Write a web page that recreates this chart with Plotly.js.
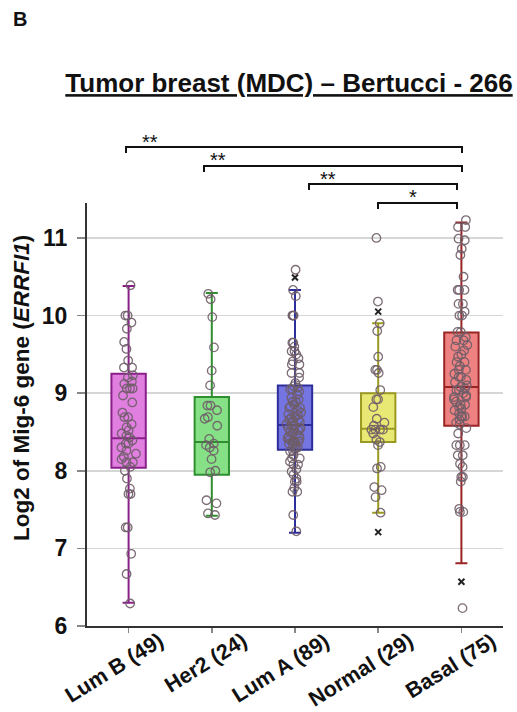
<!DOCTYPE html>
<html><head><meta charset="utf-8">
<script src="https://cdn.plot.ly/plotly-3.0.1.min.js"></script>
<style>html,body{margin:0;padding:0;background:#fff}</style>
</head><body><div id="chart" style="width:517px;height:712px"></div>
<script>
const categories = ['Lum B (49)', 'Her2 (24)', 'Lum A (89)', 'Normal (29)', 'Basal (75)'];
const q1 = [8.04, 7.95, 8.27, 8.37, 8.58];
const median = [8.42, 8.37, 8.59, 8.54, 9.08];
const q3 = [9.25, 8.95, 9.10, 9.00, 9.78];
const lowerWhisker = [6.30, 7.42, 7.20, 7.46, 6.81];
const upperWhisker = [10.38, 10.29, 10.33, 9.90, 11.20];

const lumB = [10.39, 10.0, 10.0, 9.91, 9.83, 9.66, 9.57, 9.42, 9.33, 9.33, 9.23, 9.2, 9.15, 9.12, 9.06, 9.06, 9.06, 8.97, 8.88, 8.75, 8.69, 8.69, 8.6, 8.56, 8.52, 8.48, 8.45, 8.43, 8.39, 8.35, 8.35, 8.30, 8.26, 8.22, 8.18, 8.15, 8.11, 8.11, 8.05, 8.0, 7.9, 7.77, 7.70, 7.70, 7.27, 7.27, 6.93, 6.67, 6.29];
const her2 = [10.28, 10.21, 9.98, 9.59, 9.29, 9.10, 8.84, 8.84, 8.78, 8.69, 8.67, 8.58, 8.41, 8.35, 8.33, 8.30, 8.26, 8.15, 8.0, 7.98, 7.62, 7.58, 7.45, 7.43];
const lumA = [10.59, 10.33, 10.25, 10.0, 10.0, 10.0, 9.65, 9.65, 9.6, 9.54,
  9.54, 9.50, 9.45, 9.41, 9.37, 9.37, 9.26, 9.26, 9.20, 9.13,
  9.09, 9.07, 9.05, 9.05, 9.02, 8.98, 8.94, 8.92, 8.89, 8.89,
  8.85, 8.83, 8.81, 8.81, 8.78, 8.75, 8.73, 8.72, 8.70, 8.68,
  8.66, 8.66, 8.64, 8.63, 8.62, 8.60, 8.58, 8.57, 8.55, 8.55,
  8.55, 8.54, 8.52, 8.50, 8.49, 8.47, 8.45, 8.44, 8.42, 8.42,
  8.40, 8.38, 8.38, 8.38, 8.36, 8.35, 8.33, 8.31, 8.30, 8.28,
  8.25, 8.25, 8.20, 8.16, 8.16, 8.12, 8.08, 8.08, 8.02, 7.99,
  7.95, 7.90, 7.86, 7.86, 7.78, 7.73, 7.73, 7.43, 7.22];
const normal = [11.0, 10.18, 9.90, 9.80, 9.47, 9.30, 9.30, 9.26, 9.04, 8.92, 8.92, 8.82, 8.67, 8.62, 8.58, 8.53, 8.53, 8.53, 8.53, 8.48, 8.40, 8.37, 8.33, 8.05, 8.03, 7.79, 7.75, 7.66, 7.46];
const basal = [11.23, 11.14, 11.14, 10.99, 10.97, 10.86, 10.78, 10.50, 10.33, 10.33,
  10.33, 10.15, 10.15, 10.05, 10.0, 10.0, 9.79, 9.79, 9.72, 9.68,
  9.68, 9.62, 9.60, 9.55, 9.50, 9.47, 9.40, 9.40, 9.35, 9.30,
  9.30, 9.25, 9.21, 9.21, 9.17, 9.14, 9.10, 9.08, 9.06, 9.04,
  9.04, 9.00, 8.97, 8.95, 8.95, 8.92, 8.89, 8.85, 8.85, 8.82,
  8.80, 8.78, 8.74, 8.70, 8.70, 8.70, 8.66, 8.62, 8.60, 8.55,
  8.48, 8.33, 8.33, 8.33, 8.20, 8.20, 8.09, 8.05, 7.92, 7.92,
  7.86, 7.51, 7.47, 7.47, 6.23];

const extremeCat = ['Lum A (89)', 'Normal (29)', 'Normal (29)', 'Basal (75)'];
const extremeVal = [10.49, 10.05, 7.21, 6.57];

const sigLabels = ['**', '**', '**', '*'];

const groups = [lumB, her2, lumA, normal, basal];
const lineColors = ['#8a1f8a', '#2f8f2f', '#2e2e9a', '#9a9a22', '#9a2424'];
const fillColors = ['#e07fe0', '#86e086', '#7474e2', '#e8e874', '#ee8282'];

const FONT = 'Liberation Sans, Arial, Helvetica, sans-serif';
const traces = [];
categories.forEach((c, i) => {
  traces.push({
    type: 'box', x: [c], q1: [q1[i]], median: [median[i]], q3: [q3[i]],
    lowerfence: [lowerWhisker[i]], upperfence: [upperWhisker[i]],
    fillcolor: fillColors[i], line: {color: lineColors[i], width: 2},
    whiskerwidth: 0.35, boxpoints: false, hoverinfo: 'skip'
  });
});
categories.forEach((c, i) => {
  traces.push({
    type: 'box', x: groups[i].map(() => c), y: groups[i],
    boxpoints: 'all', jitter: 0.5, pointpos: 0,
    fillcolor: 'rgba(0,0,0,0)', line: {color: 'rgba(0,0,0,0)', width: 0},
    whiskerwidth: 0,
    marker: {symbol: 'circle-open', size: 8.5, color: '#6f5d68', opacity: 0.9,
             line: {width: 1.3, color: '#6f5d68'}},
    hoverinfo: 'y'
  });
});
traces.push({
  type: 'scatter', mode: 'markers', x: extremeCat, y: extremeVal,
  marker: {symbol: 'x-thin-open', size: 6, color: '#222', line: {width: 2, color: '#222'}},
  hoverinfo: 'skip', cliponaxis: false
});

// pixel helpers for layout placement (plot area: x 87..503, y 203..626)
const PT = 203, PB = 626, PL = 87, PW = 416;
const py = p => (PB - p) / (PB - PT);
const px = p => (p - PL) / PW;

const bracketPx = [
  {x0: 126, x1: 462, y: 147},
  {x0: 204, x1: 462, y: 166},
  {x0: 309, x1: 457, y: 184},
  {x0: 378, x1: 457, y: 203}
];
const starPx = [{x: 150, y: 142}, {x: 218, y: 160}, {x: 328, y: 179}, {x: 413, y: 197}];

const shapes = bracketPx.map(b => ({
  type: 'path', xref: 'paper', yref: 'paper',
  path: `M ${px(b.x0)},${py(b.y + 6)} L ${px(b.x0)},${py(b.y)} L ${px(b.x1)},${py(b.y)} L ${px(b.x1)},${py(b.y + 6)}`,
  line: {color: '#111', width: 2}
}));

const annotations = [];
sigLabels.forEach((s, i) => annotations.push({
  text: s, xref: 'paper', yref: 'paper', x: px(starPx[i].x), y: py(starPx[i].y),
  xanchor: 'center', yanchor: 'middle', showarrow: false,
  font: {family: FONT, size: 20, color: '#111'}
}));
categories.forEach((c) => annotations.push({
  text: c, xref: 'x', yref: 'paper', x: c, y: 0, xshift: 42, yshift: 0,
  xanchor: 'right', yanchor: 'top', textangle: -32, showarrow: false,
  font: {family: FONT, size: 21.5, color: '#111', weight: 'bold'}
}));
annotations.push({
  text: 'Log2 of Mig-6 gene (<i>ERRFI1</i>)', xref: 'paper', yref: 'paper',
  x: px(21), y: py(388), xanchor: 'center', yanchor: 'middle', textangle: -90,
  showarrow: false, font: {family: FONT, size: 22.5, color: '#111', weight: 'bold'}
});
annotations.push({
  text: 'B', xref: 'paper', yref: 'paper', x: px(20), y: py(19),
  xanchor: 'center', yanchor: 'middle', showarrow: false,
  font: {family: FONT, size: 20, color: '#111', weight: 'bold'}
});

const layout = {
  width: 517, height: 712,
  margin: {l: 87, r: 14, t: 203, b: 86},
  paper_bgcolor: '#fff', plot_bgcolor: '#fff',
  showlegend: false, boxmode: 'overlay', boxgap: 0.41,
  title: {
    text: 'Tumor breast (MDC) – Bertucci - 266',
    xref: 'container', yref: 'container', x: 289 / 517, y: 1 - 83 / 712,
    xanchor: 'center', yanchor: 'middle',
    font: {family: FONT, size: 26, color: '#111', weight: 'bold', lineposition: 'under'}
  },
  xaxis: {
    type: 'category', categoryorder: 'array', categoryarray: categories,
    range: [-0.5, 4.5], showgrid: false, zeroline: false,
    showline: true, linecolor: '#333', linewidth: 2,
    ticks: 'outside', ticklen: 5, tickcolor: '#888', tickwidth: 1.5,
    showticklabels: false
  },
  yaxis: {
    range: [6, 11.45], tickvals: [6, 7, 8, 9, 10, 11],
    showgrid: true, gridcolor: '#d6d6d6', gridwidth: 1.5, zeroline: false,
    showline: true, linecolor: '#333', linewidth: 2,
    ticks: 'outside', ticklen: 8, tickcolor: '#888', tickwidth: 1.5,
    ticklabelstandoff: 5,
    tickfont: {family: FONT, size: 23, color: '#111', weight: 'bold'}
  },
  shapes: shapes,
  annotations: annotations
};

Plotly.newPlot('chart', traces, layout, {staticPlot: true, displayModeBar: false});
</script>
</body></html>
